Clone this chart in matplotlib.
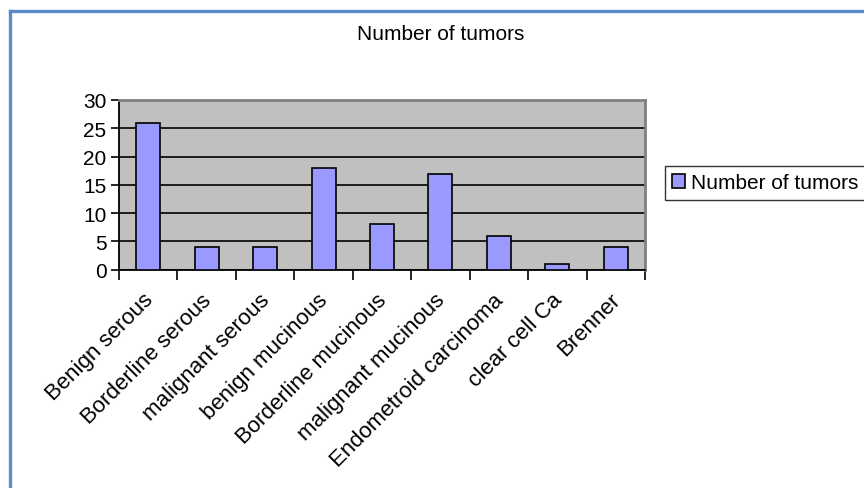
import matplotlib.pyplot as plt
from matplotlib.lines import Line2D
from matplotlib.transforms import ScaledTranslation

# Tumour types and counts
categories = ["Benign serous", "Borderline serous", "malignant serous",
              "benign mucinous", "Borderline mucinous", "malignant mucinous",
              "Endometroid carcinoma", "clear cell Ca", "Brenner"]
counts = [26, 4, 4, 18, 8, 17, 6, 1, 4]
y_ticks = [0, 5, 10, 15, 20, 25, 30]

plt.rcParams['font.family'] = ['Liberation Sans', 'DejaVu Sans']

fig = plt.figure(figsize=(8.64, 4.89), dpi=100)
ax = fig.add_axes([119 / 864, 1 - 270.7 / 489, 526 / 864, 169.7 / 489])

# Blue chart-area frame (only left and top edges are in view)
frame_col = "#5B8BC9"
fig.add_artist(Line2D([9.5 / 864, 9.5 / 864], [0, 1 - 11.5 / 489],
                      transform=fig.transFigure, color=frame_col, lw=2.4))
fig.add_artist(Line2D([9.5 / 864, 1], [1 - 11.5 / 489, 1 - 11.5 / 489],
                      transform=fig.transFigure, color=frame_col, lw=2.4))

x = list(range(len(categories)))
ax.set_facecolor("#C0C0C0")
ax.bar(x, counts, width=0.41, color="#9999FF", edgecolor="black",
       linewidth=1.2, label="Number of tumors", zorder=3)

ax.set_xlim(-0.5, len(categories) - 0.5)
ax.set_ylim(0, 30)
ax.set_yticks(y_ticks)
ax.set_yticklabels([str(v) for v in y_ticks], fontsize=15)
ax.yaxis.grid(True, color="black", lw=1.2, zorder=1)
ax.set_axisbelow(True)

# category boundary ticks
ax.set_xticks([i - 0.5 for i in range(len(categories) + 1)])
ax.set_xticklabels([])
ax.set_xticks(x, minor=True)
ax.set_xticklabels(categories, minor=True, rotation=45, ha="right",
                   va="top", rotation_mode="anchor", fontsize=16)
ax.tick_params(axis="x", which="minor", length=0, pad=14)
ax.tick_params(axis="x", which="major", length=7, width=1.2, direction="out")
ax.tick_params(axis="y", length=6, width=1.2, direction="out", pad=3)
shift = ScaledTranslation(-6 / 100, 0, fig.dpi_scale_trans)
for lab in ax.get_xticklabels(minor=True):
    lab.set_transform(lab.get_transform() + shift)

for side in ["left", "bottom"]:
    ax.spines[side].set_color("black")
    ax.spines[side].set_linewidth(1.3)
for side in ["top", "right"]:
    ax.spines[side].set_color("#808080")
    ax.spines[side].set_linewidth(2)

fig.text(441 / 864, 1 - 35 / 489, "Number of tumors", ha="center",
         va="center", fontsize=15)

leg = fig.legend(loc="upper left", bbox_to_anchor=(665 / 864, 1 - 167 / 489),
                 fontsize=15, frameon=True, fancybox=False, edgecolor="black",
                 handlelength=0.6, handleheight=0.6, handletextpad=0.3,
                 borderpad=0.35, borderaxespad=0)
leg.get_frame().set_linewidth(1.0)

fig.savefig("out.png", dpi=100)
